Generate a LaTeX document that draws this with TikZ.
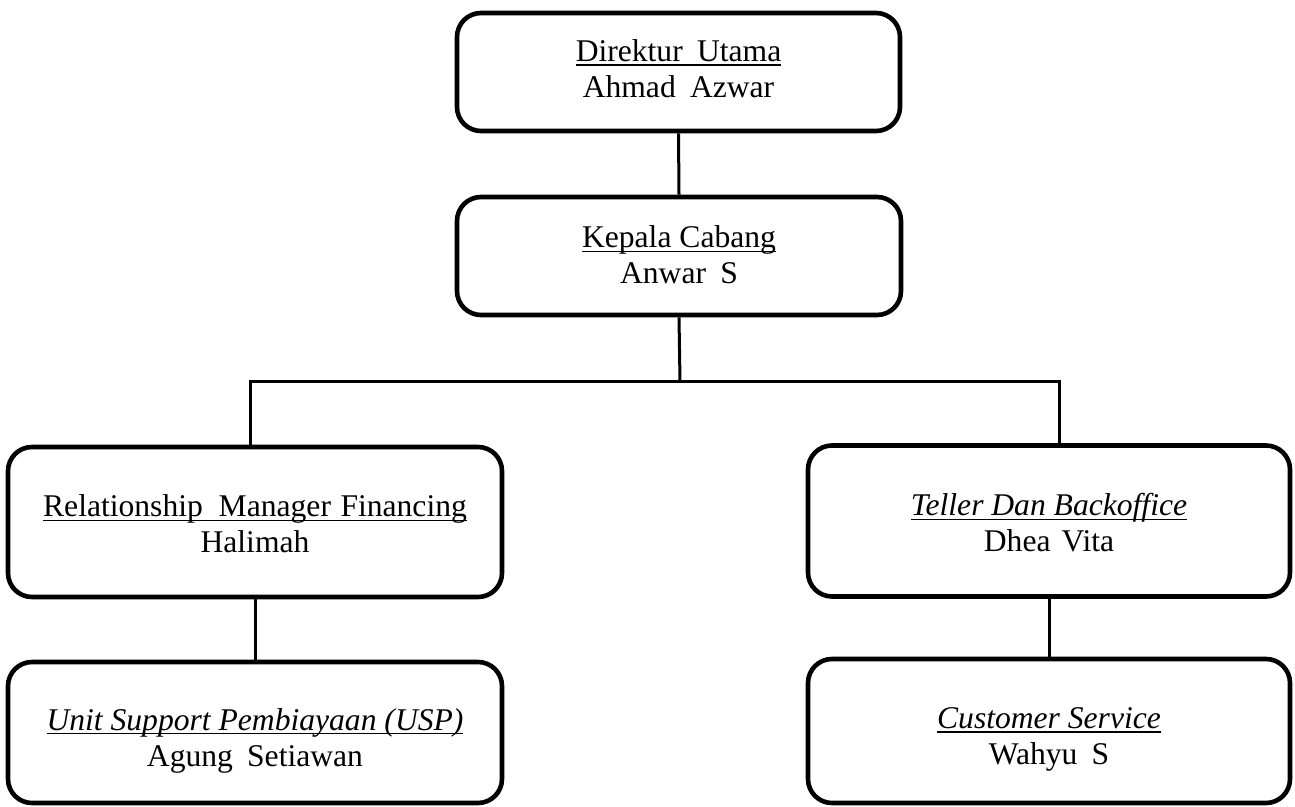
\documentclass[tikz,border=0pt]{standalone}
\usepackage{fontspec}
\setmainfont{Liberation Serif}
\newcommand\myul[1]{\setbox0\hbox{#1}\rlap{\rule[-2.2pt]{\wd0}{0.75pt}}\box0}
\newcommand\lift[1]{\rule{0pt}{#1}}
\begin{document}
\begin{tikzpicture}[x=0.5pt,y=-0.5pt,
  orgbox/.style={draw=black, line width=2.3pt, rounded corners=12pt, fill=white,
    align=center, inner sep=0pt, font=\fontsize{15.8pt}{18pt}\selectfont},
  link/.style={draw=black, line width=1.5pt}]
\useasboundingbox (0,0) rectangle (1295,807);
\node[orgbox, minimum width=221.5pt, minimum height=59pt] (top) at (678.5,72)
  {\myul{Direktur\hspace{0.45em}Utama}\\Ahmad\hspace{0.45em}Azwar\vphantom{p}};
\node[orgbox, minimum width=222pt, minimum height=59pt] (kep) at (679,256)
  {\lift{13pt}\myul{Kepala Cabang}\\Anwar\hspace{0.45em}S\vphantom{p}};
\node[orgbox, minimum width=247pt, minimum height=75pt] (rm) at (255,522)
  {\lift{16pt}\myul{Relationship\hspace{0.5em}Manager\hspace{0.3em}Financing}\\Halimah\vphantom{p}};
\node[orgbox, minimum width=247pt, minimum height=70.5pt] (usp) at (255,732.5)
  {\lift{19pt}\myul{\textit{Unit Support Pembiayaan (USP)}}\\Agung\hspace{0.45em}Setiawan};
\node[orgbox, minimum width=241pt, minimum height=75.5pt] (tel) at (1049,521)
  {\lift{16pt}\myul{\textit{Teller Dan Backoffice}}\\Dhea\hspace{0.35em}Vita\vphantom{p}};
\node[orgbox, minimum width=241pt, minimum height=72pt] (cs) at (1049,731)
  {\lift{19pt}\myul{\textit{Customer Service}}\\Wahyu\hspace{0.45em}S\vphantom{p}};
\coordinate (mid) at (680,382);
\coordinate (bl) at (250,382);
\coordinate (br) at (1059,382);
\draw[link] (top.south) -- (kep.north);
\draw[link] (kep.south) -- (mid);
\draw[link] (bl |- rm.north) -- (bl) -- (br) -- (br |- tel.north);
\draw[link] (rm.south) -- (usp.north);
\draw[link] (tel.south) -- (cs.north);
\end{tikzpicture}
\end{document}
